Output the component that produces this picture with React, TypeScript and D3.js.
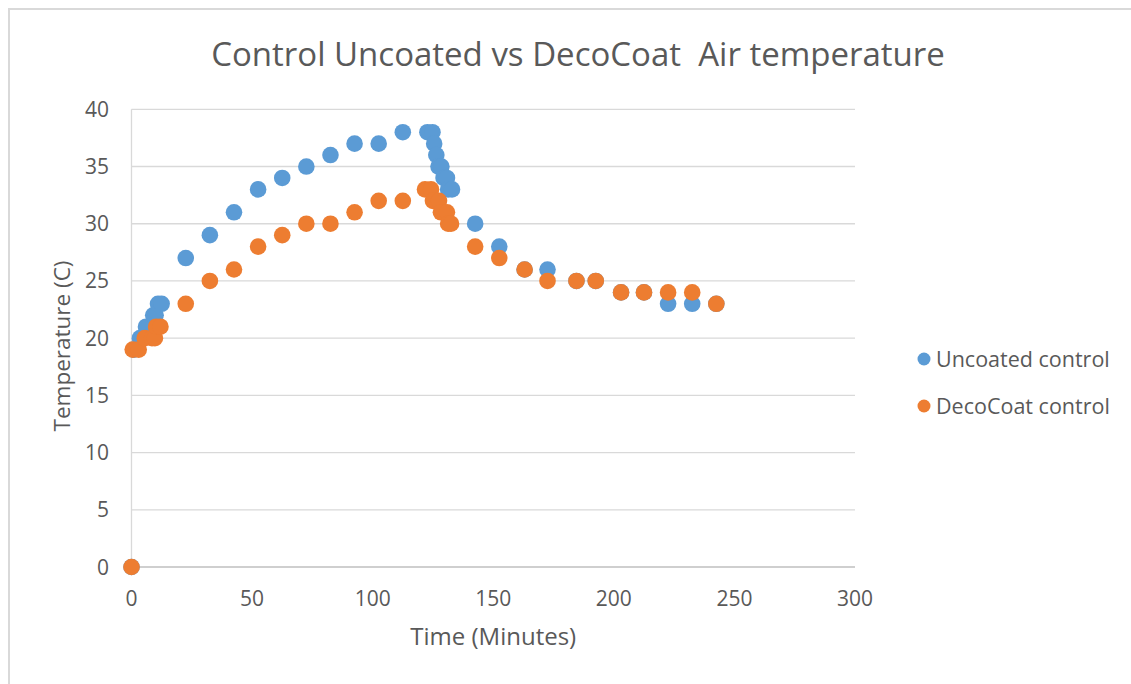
import React from "react";
import * as d3 from "d3";

const uncoatedTime = [0, 1, 3.5, 6, 9, 10, 11, 12.5, 22.5, 32.5, 42.5, 52.5, 62.5, 72.5, 82.5, 92.5, 102.5, 112.5, 122.7, 124.8, 125.5, 126.4, 127.3, 128.5, 129.4, 130.8, 131.3, 132.9, 142.5, 152.5, 163, 172.5, 184.5, 192.5, 203, 212.5, 222.5, 232.5, 242.5];
const uncoatedTemp = [0, 19, 20, 21, 22, 22, 23, 23, 27, 29, 31, 33, 34, 35, 36, 37, 37, 38, 38, 38, 37, 36, 35, 35, 34, 34, 33, 33, 30, 28, 26, 26, 25, 25, 24, 24, 23, 23, 23];

const decoTime = [0, 0.5, 3, 5.5, 8.5, 9.7, 10.2, 12, 22.5, 32.5, 42.5, 52.5, 62.5, 72.5, 82.5, 92.5, 102.5, 112.5, 121.7, 124.2, 125, 127.5, 128.3, 130.8, 131.3, 132.5, 142.5, 152.5, 163, 172.5, 184.5, 192.5, 203, 212.5, 222.5, 232.5, 242.5];
const decoTemp = [0, 19, 19, 20, 20, 20, 21, 21, 23, 25, 26, 28, 29, 30, 30, 31, 32, 32, 33, 33, 32, 32, 31, 31, 30, 30, 28, 27, 26, 25, 25, 25, 24, 24, 24, 24, 23];

const xTicks = [0, 50, 100, 150, 200, 250, 300];
const yTicks = [0, 5, 10, 15, 20, 25, 30, 35, 40];

const seriesNames = ["Uncoated control", "DecoCoat control"];
const seriesColors = ["#5B9BD5", "#ED7D31"];

const title = "Control Uncoated vs DecoCoat  Air temperature";
const xTitle = "Time (Minutes)";
const yTitle = "Temperature (C)";

export default function App() {
  const W = 1131;
  const H = 684;
  const left = 131.5;
  const right = 855;
  const top = 109.3;
  const bottom = 567;
  const x = d3.scaleLinear().domain([0, 300]).range([left, right]);
  const y = d3.scaleLinear().domain([0, 40]).range([bottom, top]);
  const font = "'Open Sans', sans-serif";
  const textColor = "#595959";
  const grid = "#d9d9d9";

  const series = [
    { name: seriesNames[0], color: seriesColors[0], t: uncoatedTime, v: uncoatedTemp },
    { name: seriesNames[1], color: seriesColors[1], t: decoTime, v: decoTemp },
  ];

  return (
    <svg
      width={W}
      height={H}
      style={{ position: "absolute", left: 0, top: 0, background: "#fff" }}
      fontFamily={font}
    >
      <rect x={0} y={0} width={W} height={H} fill="#fff" />
      <rect x={9} y={9} width={W + 20} height={H + 20} fill="none" stroke="#d9d9d9" strokeWidth={2} />
      <text
        x={578}
        y={66}
        textAnchor="middle"
        fontSize={33}
        fill={textColor}
        style={{ whiteSpace: "pre" }}
      >
        {title}
      </text>
      {yTicks.map((t) => (
        <g key={"y" + t}>
          {t > 0 && (
            <line x1={left} x2={right} y1={y(t)} y2={y(t)} stroke={grid} strokeWidth={1.3} />
          )}
          <text x={109} y={y(t) + 7.5} textAnchor="end" fontSize={21} fill={textColor}>
            {t}
          </text>
        </g>
      ))}
      <line x1={left} x2={left} y1={top} y2={bottom} stroke={grid} strokeWidth={1.3} />
      <line x1={left} x2={right} y1={bottom} y2={bottom} stroke="#bfbfbf" strokeWidth={1.3} />
      {xTicks.map((t) => (
        <text key={"x" + t} x={x(t)} y={606} textAnchor="middle" fontSize={21} fill={textColor}>
          {t}
        </text>
      ))}
      <text x={(left + right) / 2} y={645} textAnchor="middle" fontSize={24} fill={textColor}>
        {xTitle}
      </text>
      <text
        transform={`translate(70, 346) rotate(-90)`}
        textAnchor="middle"
        fontSize={22.5}
        fill={textColor}
      >
        {yTitle}
      </text>
      {series.map((s) => (
        <g key={s.name}>
          {s.t.map((t, i) => (
            <circle key={i} cx={x(t)} cy={y(s.v[i])} r={8.3} fill={s.color} />
          ))}
        </g>
      ))}
      {series.map((s, i) => (
        <g key={"lg" + i} transform={`translate(924, ${359 + i * 47})`}>
          <circle cx={0} cy={0} r={6.5} fill={s.color} />
          <text x={12} y={7.5} fontSize={21.5} fill={textColor}>
            {s.name}
          </text>
        </g>
      ))}
    </svg>
  );
}
